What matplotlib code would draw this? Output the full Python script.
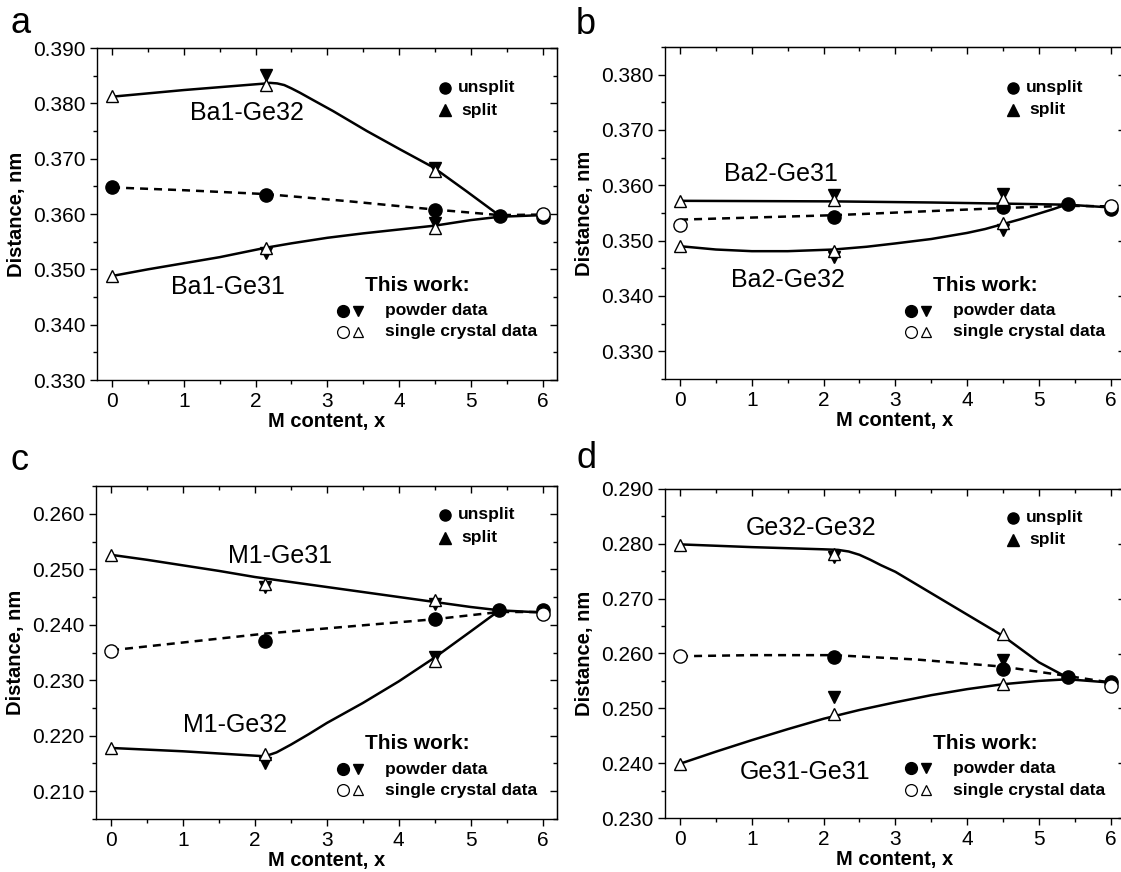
import matplotlib
matplotlib.use("Agg")
import matplotlib.pyplot as plt
from matplotlib.ticker import MultipleLocator, FormatStrFormatter

plt.rcParams['font.family'] = ['Liberation Sans', 'DejaVu Sans']

# ---------------- panel a : Ba1-Ge32 / Ba1-Ge31 ----------------
a_tri_x = [0, 2.14, 4.5]
a_up_sc = [0.3813, 0.3834, 0.3678]
a_lo_sc = [0.3488, 0.3538, 0.3574]
a_pw_tri_x = [2.14, 4.5, 2.14, 4.5]
a_pw_tri = [0.3852, 0.3684, 0.3529, 0.3584]
a_pw_circ_x = [0, 2.14, 4.5, 5.4, 6]
a_pw_circ = [0.3648, 0.3635, 0.3607, 0.3597, 0.3594]
a_sc_circ_x = [6]
a_sc_circ = [0.3600]
a_up_line_x = [0, 1, 2.15, 2.2, 2.3, 2.4, 2.5, 2.62, 2.8, 3.08, 3.55, 4.01, 4.48, 4.94, 5.4]
a_up_line = [0.3812, 0.3824, 0.3836, 0.3837, 0.3836, 0.3833, 0.3827, 0.3819, 0.3806,
             0.3786, 0.3750, 0.3717, 0.3684, 0.3641, 0.3597]
a_lo_line_x = [0, 0.5, 1, 1.5, 2.14, 2.5, 3, 3.5, 4, 4.5, 5, 5.4, 6]
a_lo_line = [0.3488, 0.3500, 0.3511, 0.3522, 0.3539, 0.3547, 0.3557, 0.3565, 0.3572,
             0.3579, 0.3589, 0.3595, 0.3598]
a_dash_x = [0, 1, 2.14, 3.3, 4.5, 5.4, 6]
a_dash = [0.3648, 0.3643, 0.3636, 0.3623, 0.3608, 0.3598, 0.3599]

# ---------------- panel b : Ba2-Ge31 / Ba2-Ge32 ----------------
b_tri_x = [0, 2.14, 4.5]
b_up_sc = [0.3572, 0.3573, 0.3575]
b_lo_sc = [0.3490, 0.3482, 0.3532]
b_pw_tri_x = [2.14, 4.5, 2.14, 4.5]
b_pw_tri = [0.3582, 0.3585, 0.3471, 0.3519]
b_pw_circ_x = [2.14, 4.5, 5.4, 6]
b_pw_circ = [0.3542, 0.3560, 0.3566, 0.3558]
b_sc_circ_x = [0, 6]
b_sc_circ = [0.3528, 0.3563]
b_up_line_x = [0, 2.14, 3.5, 4.5, 5.4, 6]
b_up_line = [0.3572, 0.3571, 0.3569, 0.3567, 0.3565, 0.3560]
b_lo_line_x = [0, 0.5, 1, 1.5, 2.14, 2.6, 3, 3.5, 4, 4.25, 4.5, 4.75, 5, 5.2, 5.4]
b_lo_line = [0.3490, 0.3484, 0.3481, 0.3481, 0.3484, 0.3489, 0.3495, 0.3503, 0.3514,
             0.3521, 0.3530, 0.3539, 0.3549, 0.3557, 0.3566]
b_dash_x = [0, 2.14, 4.5, 5.4, 6]
b_dash = [0.3538, 0.3546, 0.3559, 0.3563, 0.3562]

# ---------------- panel c : M1-Ge31 / M1-Ge32 ----------------
c_tri_x = [0, 2.14, 4.5]
c_up_sc = [0.2525, 0.2474, 0.2444]
c_lo_sc = [0.2178, 0.2168, 0.2334]
c_pw_tri_x = [2.14, 4.5, 2.14, 4.5]
c_pw_tri = [0.2468, 0.2438, 0.2151, 0.2341]
c_pw_circ_x = [2.14, 4.5, 5.4, 6]
c_pw_circ = [0.2371, 0.2411, 0.2426, 0.2426]
c_sc_circ_x = [0, 6]
c_sc_circ = [0.2353, 0.2420]
c_up_line_x = [0, 0.5, 1, 1.5, 2, 2.5, 3, 3.5, 4, 4.5, 5, 5.4, 6]
c_up_line = [0.2526, 0.2517, 0.2507, 0.2497, 0.2486, 0.2477, 0.2468, 0.2459, 0.2450,
             0.2441, 0.2432, 0.2426, 0.2422]
c_lo_line_x = [0, 1, 2.14, 2.3, 2.5, 2.75, 3, 3.5, 4, 4.5, 5, 5.4]
c_lo_line = [0.2178, 0.2172, 0.2163, 0.2170, 0.2184, 0.2203, 0.2223, 0.2259, 0.2298,
             0.2341, 0.2388, 0.2426]
c_dash_x = [0, 2.14, 4.5, 5.4, 6]
c_dash = [0.2354, 0.2384, 0.2410, 0.2423, 0.2423]

# ---------------- panel d : Ge32-Ge32 / Ge31-Ge31 ----------------
d_tri_x = [0, 2.14, 4.5]
d_up_sc = [0.2797, 0.2782, 0.2635]
d_lo_sc = [0.2398, 0.2490, 0.2544]
d_pw_tri_x = [2.14, 4.5, 2.14]
d_pw_tri = [0.2776, 0.2588, 0.2520]
d_pw_circ_x = [2.14, 4.5, 5.4, 6]
d_pw_circ = [0.2594, 0.2572, 0.2558, 0.2548]
d_sc_circ_x = [0, 6]
d_sc_circ = [0.2595, 0.2541]
d_up_line_x = [0, 1, 2, 2.2, 2.35, 2.5, 2.65, 2.8, 3, 3.5, 4, 4.5, 5, 5.4]
d_up_line = [0.2799, 0.2794, 0.2790, 0.2789, 0.2786, 0.2780, 0.2771, 0.2761, 0.2749,
             0.2710, 0.2671, 0.2632, 0.2584, 0.2556]
d_lo_line_x = [0, 0.5, 1, 1.5, 2, 2.5, 3, 3.5, 4, 4.5, 5, 5.4, 6]
d_lo_line = [0.2399, 0.2421, 0.2442, 0.2462, 0.2481, 0.2497, 0.2511, 0.2524, 0.2535,
             0.2544, 0.2550, 0.2553, 0.2547]
d_dash_x = [0, 1, 2.14, 3.3, 4.5, 5.4, 6]
d_dash = [0.2595, 0.2597, 0.2597, 0.2589, 0.2576, 0.2559, 0.2547]

panels = [
    dict(letter="a", rect=[97, 48, 460, 332], letter_xy=(10, 33), ylim=(0.330, 0.390),
         labels=[("Ba1-Ge32", 1.88, 0.3783), ("Ba1-Ge31", 1.61, 0.3468)],
         leg_y=(0.880, 0.812, 0.284, 0.209, 0.146),
         tri_x=a_tri_x, up_sc=a_up_sc, lo_sc=a_lo_sc, pw_tri_x=a_pw_tri_x, pw_tri=a_pw_tri,
         pw_circ_x=a_pw_circ_x, pw_circ=a_pw_circ, sc_circ_x=a_sc_circ_x, sc_circ=a_sc_circ,
         up_x=a_up_line_x, up=a_up_line, lo_x=a_lo_line_x, lo=a_lo_line,
         dash_x=a_dash_x, dash=a_dash),
    dict(letter="b", rect=[665, 47, 460, 332], letter_xy=(576, 34), ylim=(0.325, 0.385),
         labels=[("Ba2-Ge31", 1.40, 0.3621), ("Ba2-Ge32", 1.50, 0.3429)],
         leg_y=(0.877, 0.811, 0.281, 0.206, 0.143),
         tri_x=b_tri_x, up_sc=b_up_sc, lo_sc=b_lo_sc, pw_tri_x=b_pw_tri_x, pw_tri=b_pw_tri,
         pw_circ_x=b_pw_circ_x, pw_circ=b_pw_circ, sc_circ_x=b_sc_circ_x, sc_circ=b_sc_circ,
         up_x=b_up_line_x, up=b_up_line, lo_x=b_lo_line_x, lo=b_lo_line,
         dash_x=b_dash_x, dash=b_dash),
    dict(letter="c", rect=[96, 486, 461, 333], letter_xy=(11, 470), ylim=(0.205, 0.265),
         labels=[("M1-Ge31", 2.35, 0.2523), ("M1-Ge32", 1.72, 0.2220)],
         leg_y=(0.913, 0.844, 0.227, 0.150, 0.087),
         tri_x=c_tri_x, up_sc=c_up_sc, lo_sc=c_lo_sc, pw_tri_x=c_pw_tri_x, pw_tri=c_pw_tri,
         pw_circ_x=c_pw_circ_x, pw_circ=c_pw_circ, sc_circ_x=c_sc_circ_x, sc_circ=c_sc_circ,
         up_x=c_up_line_x, up=c_up_line, lo_x=c_lo_line_x, lo=c_lo_line,
         dash_x=c_dash_x, dash=c_dash),
    dict(letter="d", rect=[665, 489, 460, 329], letter_xy=(576, 468), ylim=(0.230, 0.290),
         labels=[("Ge32-Ge32", 1.82, 0.2828), ("Ge31-Ge31", 1.74, 0.2384)],
         leg_y=(0.913, 0.845, 0.226, 0.151, 0.085),
         tri_x=d_tri_x, up_sc=d_up_sc, lo_sc=d_lo_sc, pw_tri_x=d_pw_tri_x, pw_tri=d_pw_tri,
         pw_circ_x=d_pw_circ_x, pw_circ=d_pw_circ, sc_circ_x=d_sc_circ_x, sc_circ=d_sc_circ,
         up_x=d_up_line_x, up=d_up_line, lo_x=d_lo_line_x, lo=d_lo_line,
         dash_x=d_dash_x, dash=d_dash),
]

W, H = 1121, 872
fig = plt.figure(figsize=(W / 100, H / 100), dpi=100)

line_args = dict(color="k", lw=1.8, zorder=2, solid_joinstyle="round")
open_tri = dict(ls="none", marker="^", ms=9, mfc="white", mec="k", mew=1.0, zorder=4)
full_tri = dict(ls="none", marker="v", ms=9, color="k", zorder=3)
open_circ = dict(ls="none", marker="o", ms=9.5, mfc="white", mec="k", mew=1.0, zorder=4)
full_circ = dict(ls="none", marker="o", ms=9.5, color="k", zorder=3)

for p in panels:
    l, t, w, h = p["rect"]
    ax = fig.add_axes([l / W, 1 - (t + h) / H, w / W, h / H])

    ax.plot(p["up_x"], p["up"], **line_args)
    ax.plot(p["lo_x"], p["lo"], **line_args)
    ax.plot(p["dash_x"], p["dash"], ls=(0, (3.2, 2.4)), **line_args)

    ax.plot(p["pw_tri_x"], p["pw_tri"], **full_tri)
    ax.plot(p["pw_circ_x"], p["pw_circ"], **full_circ)
    ax.plot(p["tri_x"], p["up_sc"], **open_tri)
    ax.plot(p["tri_x"], p["lo_sc"], **open_tri)
    ax.plot(p["sc_circ_x"], p["sc_circ"], **open_circ)

    for txt, x, y in p["labels"]:
        ax.text(x, y, txt, fontsize=18, ha="center", va="center")

    # key texts (inside the frame, axes fraction)
    y1, y2, y3, y4, y5 = p["leg_y"]
    tr = ax.transAxes
    ax.plot([0.757], [y1], transform=tr, ls="none", marker="o", ms=8, color="k")
    ax.text(0.785, y1, "unsplit", transform=tr, fontsize=12.5, weight="bold", va="center")
    ax.plot([0.757], [y2], transform=tr, ls="none", marker="^", ms=8, color="k")
    ax.text(0.792, y2, "split", transform=tr, fontsize=12.5, weight="bold", va="center")
    ax.text(0.697, y3, "This work:", transform=tr, fontsize=15, weight="bold",
            ha="center", va="center")
    ax.plot([0.535], [y4], transform=tr, ls="none", marker="o", ms=8.5, color="k")
    ax.plot([0.568], [y4], transform=tr, ls="none", marker="v", ms=7.5, color="k")
    ax.text(0.627, y4, "powder data", transform=tr, fontsize=12.5, weight="bold",
            va="center")
    ax.plot([0.535], [y5], transform=tr, ls="none", marker="o", ms=8.5, mfc="white",
            mec="k", mew=0.9)
    ax.plot([0.568], [y5], transform=tr, ls="none", marker="^", ms=7.5, mfc="white",
            mec="k", mew=0.9)
    ax.text(0.627, y5, "single crystal data", transform=tr, fontsize=12.5, weight="bold",
            va="center")

    ax.set(xlim=(-0.21, 6.2), ylim=p["ylim"])
    ax.xaxis.set_major_locator(MultipleLocator(1))
    ax.xaxis.set_minor_locator(MultipleLocator(0.5))
    ax.yaxis.set_major_locator(MultipleLocator(0.01))
    ax.yaxis.set_minor_locator(MultipleLocator(0.005))
    ax.yaxis.set_major_formatter(FormatStrFormatter("%.3f"))
    ax.tick_params(which="both", direction="out", labelsize=15, width=1.0)
    ax.tick_params(which="major", length=5)
    ax.tick_params(which="minor", length=3)
    for s in ax.spines.values():
        s.set_linewidth(1.0)

    # mirrored inward ticks on top/right
    top = ax.secondary_xaxis("top")
    top.xaxis.set_major_locator(MultipleLocator(1))
    top.xaxis.set_minor_locator(MultipleLocator(0.5))
    top.tick_params(which="both", direction="in", labeltop=False, width=1.0)
    top.tick_params(which="major", length=5)
    top.tick_params(which="minor", length=3)
    right = ax.secondary_yaxis("right")
    right.yaxis.set_major_locator(MultipleLocator(0.01))
    right.yaxis.set_minor_locator(MultipleLocator(0.005))
    right.tick_params(which="both", direction="in", labelright=False, width=1.0)
    right.tick_params(which="major", length=5)
    right.tick_params(which="minor", length=3)

    ax.set_xlabel("M content, x", fontsize=14.5, weight="bold", labelpad=1)
    ax.set_ylabel("Distance, nm", fontsize=14.5, weight="bold", labelpad=5)

    lx, ly = p["letter_xy"]
    fig.text(lx / W, 1 - ly / H, p["letter"], fontsize=26, va="baseline")

fig.savefig("out.png", dpi=100)
